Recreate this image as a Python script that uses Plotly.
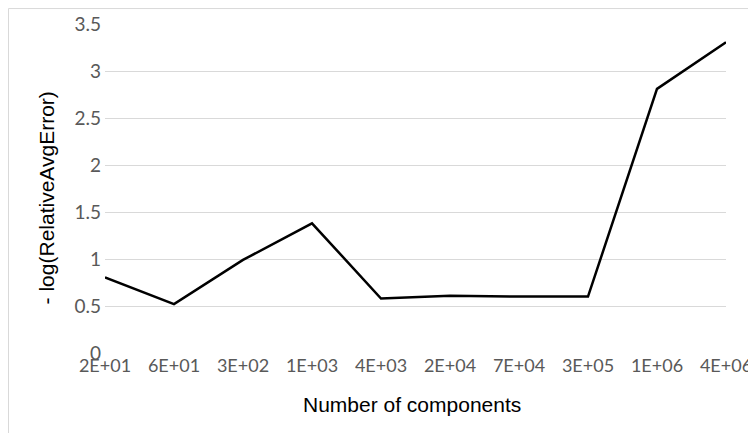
import plotly.graph_objects as go

categories = ["2E+01", "6E+01", "3E+02", "1E+03", "4E+03", "2E+04", "7E+04", "3E+05", "1E+06", "4E+06"]
values = [0.805, 0.52, 0.99, 1.38, 0.58, 0.61, 0.60, 0.60, 2.81, 3.305]
y_ticks = [0, 0.5, 1, 1.5, 2, 2.5, 3, 3.5]
y_tick_text = ["0", "0.5", "1", "1.5", "2", "2.5", "3", "3.5"]
x_title = "Number of components"
y_title = "- log(RelativeAvgError)"

idx = list(range(len(categories)))

fig = go.Figure(go.Scatter(x=idx, y=values, mode="lines",
                           line=dict(color="#000000", width=2.5), hoverinfo="skip"))

fig.update_layout(
    width=748, height=425,
    margin=dict(l=97, r=30, t=16, b=80),
    paper_bgcolor="white", plot_bgcolor="white",
    showlegend=False,
    font=dict(family="Lato, Carlito, sans-serif", color="#595959", size=19),
    xaxis=dict(range=[0, 9], tickmode="array", tickvals=idx, ticktext=categories,
               showgrid=False, zeroline=False, showline=False, ticks="", automargin=False,
               tickfont=dict(size=18, color="#595959")),
    yaxis=dict(range=[0, 3.5], tickmode="array", tickvals=y_ticks, ticktext=y_tick_text,
               showgrid=True, gridcolor="#d9d9d9", gridwidth=1, zeroline=False,
               showline=False, ticks="", automargin=False, ticklabelstandoff=3,
               tickfont=dict(size=19, color="#595959")),
    shapes=[dict(type="rect", xref="paper", yref="paper", x0=-0.1554, x1=1.1, y0=-0.3, y1=1.047,
                 line=dict(color="#d9d9d9", width=1), layer="below")],
    annotations=[
        dict(text=x_title, xref="paper", yref="paper", x=0.494, y=-0.158, showarrow=False,
             yanchor="middle", xanchor="center",
             font=dict(family="Liberation Sans, Arial, sans-serif", size=21, color="#000000")),
        dict(text=y_title, xref="paper", yref="paper", x=-0.095, y=0.47, showarrow=False,
             textangle=-90, xanchor="center", yanchor="middle",
             font=dict(family="Liberation Sans, Arial, sans-serif", size=21, color="#000000")),
    ],
)

fig.write_html("out.html")
